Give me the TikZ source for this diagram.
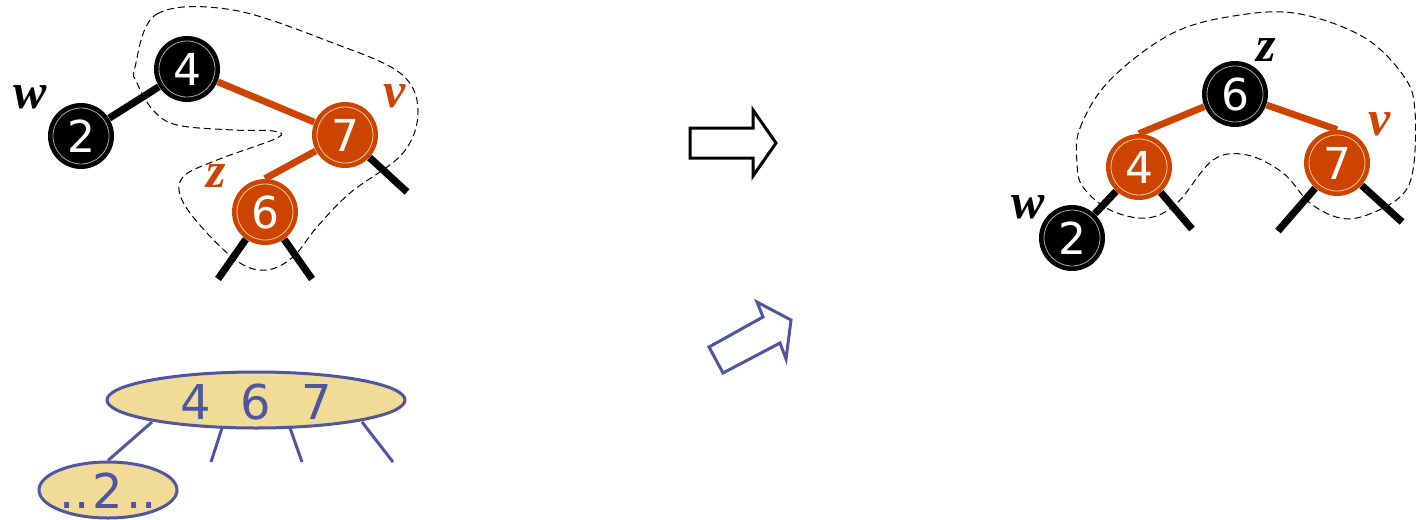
\documentclass[tikz,border=0pt]{standalone}
\usepackage{fontspec}
\setmainfont{DejaVu Sans}
\newfontfamily\labfont{Liberation Serif}
\usetikzlibrary{shapes.geometric}
\definecolor{rbo}{HTML}{CC4400}
\definecolor{tblue}{HTML}{5055A0}
\definecolor{tyel}{HTML}{F0DC96}
\tikzset{
  tnode/.style={circle, minimum size=33pt, inner sep=0pt, text=white,
    font=\fontsize{22}{22}\selectfont,
    path picture={\draw[#1, line width=0.4pt] (path picture bounding box.center) circle (14pt);}},
  bnode/.style={tnode=gray!70, fill=black},
  onode/.style={tnode=orange!40, fill=rbo},
  bedge/.style={line width=3.6pt, black},
  oedge/.style={line width=3.4pt, rbo},
  lab/.style={font=\labfont\bfseries\itshape\fontsize{25}{25}\selectfont, inner sep=0pt},
  dline/.style={dashed, dash pattern=on 3.5pt off 2pt, line width=0.5pt, black},
  bell/.style={ellipse, draw=tblue, fill=tyel, line width=1.5pt, inner sep=0pt},
  btext/.style={text=tblue, font=\fontsize{24}{24}\selectfont, inner sep=0pt},
  bline/.style={draw=tblue, line width=1.5pt},
}
\begin{document}
\begin{tikzpicture}[x=0.5pt, y=-0.5pt]
\useasboundingbox (0,0) rectangle (1416,519);

% ---------- left tree ----------
\draw[dline] plot[smooth cycle, tension=0.6] coordinates {
 (135,67) (157,14) (233,10) (333,43) (400,73) (418,110) (403,153) (350,193)
 (317,227) (293,257) (267,270) (240,263) (207,233) (182,200) (183,177)
 (217,160) (277,138) (273,131) (233,130) (177,125) (153,110) (137,83)};

\node[bnode] (L4) at (187,69) {4};
\node[bnode] (L2) at (81,136) {2};
\node[onode] (L7) at (345,135) {7};
\node[onode] (L6) at (265,212) {6};

\coordinate (L7r) at (407,192);
\coordinate (L6l) at (218,279);
\coordinate (L6r) at (312,279);

\draw[bedge] (L4) -- (L2);
\draw[oedge] (L4) -- (L7);
\draw[oedge] (L7) -- (L6.north);
\draw[bedge] (L7) -- (L7r);
\draw[bedge] (L6) -- (L6l);
\draw[bedge] (L6) -- (L6r);

\node[lab] (Lw) at (30,97) {w};
\node[lab, text=rbo] (Lv) at (395,96) {v};
\node[lab, text=rbo] (Lz) at (216,176) {z};

% ---------- arrows ----------
\draw[line width=1.5pt, black, line join=miter]
  (690,128) -- (753,128) -- (753,110) -- (776,143) -- (753,176) -- (753,158) -- (690,158) -- cycle;
\draw[line width=1.5pt, tblue, line join=miter]
  (709,347) -- (763,317) -- (757,302) -- (791,320) -- (786,359) -- (780,343) -- (723,373) -- cycle;

% ---------- right tree ----------
\draw[dline] plot[smooth cycle, tension=0.6] coordinates {
 (1077,163) (1080,128) (1110,80) (1173,33) (1240,15) (1300,14) (1365,38)
 (1405,78) (1415,112) (1413,170) (1400,197) (1367,215) (1340,218) (1310,203)
 (1283,173) (1247,155) (1213,160) (1177,203) (1147,218) (1110,210) (1083,187)};

\node[bnode] (R6) at (1235,94) {6};
\node[onode] (R4) at (1139,167) {4};
\node[onode] (R7) at (1337,163) {7};
\node[bnode] (R2) at (1072,238) {2};

\coordinate (R4r) at (1192,229);
\coordinate (R7l) at (1278,231);
\coordinate (R7r) at (1402,222);

\draw[oedge] (R6) -- (R4.north);
\draw[oedge] (R6) -- (R7.north);
\draw[bedge] (R4) -- (R2);
\draw[bedge] (R4) -- (R4r);
\draw[bedge] (R7) -- (R7l);
\draw[bedge] (R7) -- (R7r);

\node[lab] (Rz) at (1266,50) {z};
\node[lab, text=rbo] (Rv) at (1380,124) {v};
\node[lab] (Rw) at (1028,207) {w};

% ---------- 2-4 tree ----------
\node[bell, minimum width=149pt, minimum height=28pt] (B) at (256,400) {};
\node[btext] (Bt) at (256,402) {4\hspace{15pt}6\hspace{15pt}7};
\node[bell, minimum width=69pt, minimum height=28pt] (S) at (108,490) {};
\node[btext] (St) at (108,491) {..\kern1.5pt 2\kern1.5pt ..};

\coordinate (b2) at (211,462);
\coordinate (b3) at (302,462);
\coordinate (b4) at (393,462);
\draw[bline] (152,422) -- (S.north);
\draw[bline] (222,428) -- (b2);
\draw[bline] (290,428) -- (b3);
\draw[bline] (362,422) -- (b4);
\end{tikzpicture}
\end{document}
